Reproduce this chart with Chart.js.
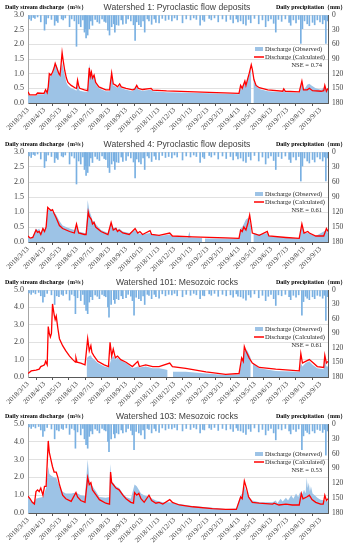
<!DOCTYPE html>
<html><head><meta charset="utf-8">
<script src="https://cdn.jsdelivr.net/npm/chart.js@4.4.1/dist/chart.umd.min.js"></script>
<style>
html,body{margin:0;padding:0;background:#fff;width:350px;height:550px;overflow:hidden;}
canvas{position:absolute;left:0;}
</style></head>
<body>
<canvas id="c1"></canvas><canvas id="c2"></canvas><canvas id="c3"></canvas><canvas id="c4"></canvas>
<script>
// ---- tick labels (x axis) ----
const monthLabels = ['2018/3/13','2018/4/13','2018/5/13','2018/6/13','2018/7/13','2018/8/13','2018/9/13','2018/10/13','2018/11/13','2018/12/13','2019/1/13','2019/2/13','2019/3/13','2019/4/13','2019/5/13','2019/6/13','2019/7/13','2019/8/13','2019/9/13'];
const titles = ['Watershed 1: Pyroclastic flow deposits','Watershed 4: Pyroclastic flow deposits','Watershed 101: Mesozoic rocks','Watershed 103: Mesozoic rocks'];
const nseValues = ['0.74','0.61','0.61','0.53'];
const dischargeMax = [3, 3, 5, 5];
const dischargeStep = [0.5, 0.5, 1, 1];

// ---- series: [day since 2018/3/13, value] ----
const calc1 = [[0,0.38],[3,0.28],[15,0.28],[18,0.34],[30,0.33],[33,0.45],[36,0.35],[38,0.55],[40,1.0],[43,0.95],[46,1.05],[49,1.2],[51,1.35],[53,1.25],[56,1.1],[58,1.0],[60,0.95],[62,1.3],[64,1.72],[66,1.45],[69,1.1],[72,0.85],[75,0.7],[81,0.6],[88,0.52],[91,0.5],[93,0.78],[95,0.6],[97,0.5],[106,0.45],[112,0.42],[115,1.2],[117,0.9],[119,1.05],[121,0.85],[124,0.95],[127,0.7],[133,0.55],[146,0.45],[153,0.45],[157,1.02],[160,0.65],[165,0.6],[168,0.55],[172,0.65],[175,0.55],[184,0.5],[196,0.45],[200,0.47],[204,0.6],[207,0.5],[215,0.46],[231,0.5],[234,0.44],[260,0.41],[300,0.39],[340,0.36],[396,0.33],[399,0.6],[402,0.5],[407,0.75],[409,0.6],[412,0.8],[415,1.0],[419,1.3],[421,1.15],[424,0.8],[428,0.6],[434,0.52],[450,0.45],[478,0.4],[480,0.48],[483,0.4],[509,0.38],[514,0.75],[517,0.45],[524,0.45],[528,0.5],[534,0.42],[550,0.4],[555,0.42],[557,0.6],[560,0.4],[563,0.5]];
const obs1 = [[0,0.25],[15,0.25],[18,0.3],[30,0.3],[33,0.42],[36,0.33],[38,0.5],[40,0.95],[43,0.9],[46,1.0],[49,1.15],[51,1.38],[53,1.3],[56,1.15],[58,1.0],[60,0.9],[62,1.15],[64,1.4],[66,1.2],[69,0.95],[72,0.7],[75,0.6],[81,0.5],[88,0.45],[91,0.42],[93,0.72],[95,0.5],[97,0.42],[106,0.38],[112,0.38],[115,1.35],[117,1.0],[119,1.1],[121,0.9],[124,0.9],[127,0.65],[133,0.5],[146,0.4],[153,0.4],[157,0.95],[160,0.6],[165,0.55],[168,0.5],[172,0.6],[175,0.5],[184,0.45],[196,0.4],[204,0.55],[207,0.45],[215,0.42],[231,0.45],[234,0.4],[260,0.37],[300,0.35],[340,0.33],[396,0.3],[399,0.5],[402,0.45],[407,0.7],[409,0.55],[412,0.75],[415,0.95],[419,1.2],[421,null],[423,0.9],[426,0.65],[430,0.55],[434,0.48],[450,0.4],[478,0.37],[480,0.45],[483,0.37],[509,0.35],[514,0.7],[517,0.45],[520,0.5],[524,0.62],[528,0.66],[532,0.6],[540,0.5],[550,0.45],[557,0.55],[560,0.4],[563,0.45]];
const calc2 = [[0,0.2],[4,0.13],[9,0.15],[15,0.4],[18,0.32],[21,0.35],[24,0.25],[28,0.45],[31,0.35],[34,0.5],[37,1.15],[40,1.1],[43,1.05],[46,1.08],[49,0.95],[53,0.8],[59,0.55],[65,0.45],[78,0.35],[87,0.3],[91,0.6],[95,0.3],[106,0.25],[109,0.25],[113,1.0],[115,0.85],[119,0.75],[121,0.6],[124,0.65],[127,0.5],[137,0.35],[150,0.25],[156,0.65],[160,0.4],[165,0.45],[168,0.35],[171,0.4],[178,0.3],[190,0.25],[201,0.45],[206,0.3],[210,0.35],[215,0.25],[229,0.38],[232,0.25],[246,0.22],[266,0.3],[271,0.2],[309,0.17],[371,0.14],[396,0.12],[399,0.4],[402,0.35],[405,0.5],[409,0.4],[413,0.65],[416,0.9],[419,0.55],[421,0.3],[434,0.22],[449,0.35],[452,0.2],[484,0.15],[509,0.12],[514,0.6],[518,0.3],[525,0.35],[528,0.3],[540,0.2],[555,0.2],[560,0.45],[563,0.35]];
const obs2 = [[0,0.15],[4,0.12],[9,0.2],[15,0.45],[18,0.4],[21,0.45],[24,0.3],[28,0.5],[31,0.4],[34,0.5],[37,1.1],[40,1.05],[43,1.1],[46,1.0],[49,1.0],[53,0.9],[59,0.7],[65,0.55],[78,0.45],[87,0.4],[91,0.55],[95,0.35],[106,0.3],[109,0.3],[112,1.4],[115,1.05],[119,0.85],[121,0.7],[124,0.7],[127,0.6],[137,0.4],[150,0.3],[156,0.65],[160,0.45],[165,0.5],[168,0.4],[171,0.45],[178,0.35],[190,0.3],[201,0.4],[206,0.3],[215,0.25],[229,0.3],[246,0.2],[266,0.25],[271,0.18],[300,0.15],[303,0.35],[305,0.15],[327,0.13],[329,null],[332,0.12],[371,0.12],[396,0.12],[399,0.45],[402,0.5],[405,0.6],[409,0.75],[413,0.8],[416,0.7],[419,0.5],[421,null],[423,0.3],[434,0.25],[449,0.3],[452,0.2],[484,0.15],[509,0.12],[514,0.55],[518,0.3],[525,0.3],[540,0.2],[560,0.4],[563,0.3]];
const calc3 = [[0,0.2],[6,0.35],[15,0.4],[21,0.45],[24,0.6],[28,0.65],[31,0.7],[33,0.9],[36,0.7],[38,2.9],[40,2.5],[42,2.3],[44,2.5],[46,4.2],[49,3.6],[51,3.3],[53,3.5],[56,2.8],[59,2.2],[65,1.8],[71,1.5],[78,1.2],[84,1.0],[89,0.85],[90,1.1],[92,0.85],[99,0.8],[107,0.7],[112,2.2],[115,1.5],[118,1.8],[120,1.4],[124,1.2],[131,0.9],[143,0.7],[151,0.6],[154,2.0],[157,1.2],[160,1.6],[164,1.1],[168,1.2],[174,1.0],[184,0.85],[196,0.6],[206,0.9],[209,0.6],[221,0.7],[234,0.6],[246,0.6],[266,0.8],[271,0.6],[296,0.5],[334,0.3],[371,0.15],[396,0.2],[401,1.1],[404,0.9],[406,1.75],[409,1.5],[412,1.3],[415,1.1],[421,0.8],[434,0.55],[465,0.45],[509,0.35],[512,1.35],[515,0.8],[521,0.9],[528,1.0],[534,0.85],[543,0.6],[555,0.55],[557,1.25],[560,0.8],[563,0.9]];
const obs3 = [[109,null],[110,1.0],[112,1.15],[115,1.2],[118,1.25],[120,1.1],[124,1.0],[131,0.8],[143,0.6],[151,0.55],[154,0.8],[157,1.1],[160,1.2],[164,1.0],[168,1.1],[174,0.95],[184,0.8],[196,0.5],[206,0.6],[209,0.55],[221,0.6],[234,0.5],[246,0.5],[256,0.45],[262,0.4],[264,null],[272,0.3],[296,0.3],[334,0.2],[371,0.12],[396,0.15],[401,0.9],[404,1.0],[406,1.5],[409,1.6],[412,1.5],[415,1.3],[418,1.1],[420,null],[422,0.8],[434,0.5],[465,0.35],[509,0.3],[512,0.8],[515,0.6],[521,0.8],[528,0.9],[534,0.7],[543,0.5],[555,0.45],[557,1.0],[560,0.6],[563,0.6]];
const calc4 = [[0,0.95],[4,0.8],[8,0.6],[12,0.5],[15,1.2],[18,1.3],[21,1.2],[24,1.4],[28,1.0],[31,1.5],[34,1.5],[38,4.05],[40,3.4],[43,3.0],[46,2.6],[49,2.3],[53,2.3],[56,2.0],[59,1.6],[65,1.0],[71,0.8],[81,0.65],[90,1.15],[93,0.9],[99,0.7],[107,0.6],[112,2.0],[115,1.6],[118,1.7],[121,1.3],[128,1.0],[134,0.75],[146,0.55],[153,0.5],[155,2.3],[157,1.7],[160,1.6],[165,1.4],[171,1.3],[178,1.0],[184,0.8],[193,0.6],[198,0.55],[200,1.15],[204,1.0],[208,1.1],[212,0.8],[218,0.6],[227,1.0],[232,0.7],[240,0.55],[246,0.6],[253,0.5],[266,0.75],[271,0.6],[284,0.45],[309,0.35],[346,0.25],[371,0.2],[391,0.2],[399,0.9],[402,0.8],[406,1.8],[410,1.4],[414,0.9],[421,0.6],[434,0.55],[459,0.5],[462,0.55],[471,0.45],[484,0.5],[496,0.45],[509,0.45],[513,1.1],[516,0.8],[523,0.9],[528,1.0],[533,0.75],[540,0.6],[549,0.5],[554,0.5],[557,1.0],[560,0.7],[563,0.8]];
const obs4 = [[0,1.0],[4,0.8],[8,0.6],[12,0.65],[15,0.8],[21,0.85],[28,0.9],[34,1.4],[38,2.6],[40,2.2],[43,2.1],[49,2.0],[53,2.0],[59,1.5],[65,1.2],[71,1.1],[81,1.1],[90,1.15],[99,1.0],[107,0.95],[112,3.0],[115,1.9],[118,1.6],[121,1.5],[128,1.2],[134,0.9],[146,0.85],[153,0.9],[154,2.75],[157,1.8],[165,1.5],[171,1.4],[178,1.1],[184,0.9],[193,0.8],[200,1.6],[204,1.5],[208,1.3],[212,1.1],[218,1.0],[227,0.9],[240,0.7],[253,0.6],[266,0.6],[284,0.5],[309,0.4],[346,0.3],[371,0.22],[391,0.25],[399,1.0],[402,1.1],[406,1.5],[410,1.2],[414,0.9],[421,0.7],[434,0.6],[459,0.6],[465,0.7],[468,0.55],[474,0.8],[478,0.65],[484,0.85],[488,0.7],[494,1.0],[498,0.8],[503,1.1],[507,0.9],[511,1.2],[514,1.0],[518,1.3],[521,1.1],[523,2.0],[525,1.4],[527,1.7],[529,1.2],[531,1.5],[534,1.1],[538,1.0],[543,0.85],[549,0.75],[557,0.7],[563,0.65]];
const precipA = [[2,8],[6,11],[10,5],[13,7],[18,4],[24,14],[31,31],[34,18],[38,6],[44,9],[50,21],[53,12],[56,15],[63,8],[66,10],[70,6],[78,24],[82,8],[87,12],[91,64],[95,18],[99,24],[103,10],[106,35],[108,28],[109,47],[112,41],[115,28],[118,12],[121,21],[126,9],[130,14],[134,17],[139,8],[143,13],[146,15],[150,31],[153,41],[157,24],[161,18],[163,35],[166,20],[170,21],[175,10],[178,19],[184,17],[188,8],[193,12],[198,20],[201,52],[204,14],[208,20],[212,24],[216,12],[219,35],[224,8],[227,12],[232,19],[237,8],[240,15],[246,16],[252,7],[258,11],[264,9],[270,12],[275,6],[280,10],[290,16],[297,8],[305,10],[311,6],[316,9],[323,21],[328,10],[331,13],[340,7],[344,10],[350,6],[357,14],[365,8],[372,13],[380,9],[385,16],[391,8],[394,14],[399,12],[404,18],[409,21],[414,9],[418,16],[425,7],[433,18],[440,10],[446,24],[451,12],[456,8],[461,17],[465,35],[470,9],[476,13],[483,8],[490,15],[493,21],[498,10],[503,16],[508,9],[512,58],[515,28],[519,12],[524,18],[528,22],[534,15],[538,20],[543,10],[548,14],[553,18],[556,10],[559,58],[562,12]];
const precipB = [[2,6],[6,9],[10,5],[14,8],[20,5],[24,12],[28,25],[31,14],[36,7],[44,10],[50,30],[54,12],[58,14],[63,9],[66,11],[72,8],[78,21],[82,9],[87,12],[89,49],[93,16],[99,22],[103,9],[106,30],[109,42],[112,49],[115,25],[118,14],[121,20],[126,10],[130,13],[134,18],[139,9],[143,12],[146,14],[150,35],[152,56],[156,30],[161,20],[163,28],[166,18],[170,20],[175,12],[178,18],[184,16],[188,9],[193,13],[196,22],[199,52],[203,15],[208,18],[212,22],[216,12],[219,30],[224,9],[227,11],[232,18],[237,9],[240,14],[246,17],[252,8],[258,12],[264,9],[270,10],[275,7],[280,12],[290,14],[297,9],[305,11],[311,7],[316,10],[323,18],[328,11],[331,12],[340,8],[344,11],[350,7],[357,13],[365,9],[372,12],[380,10],[385,15],[391,8],[394,13],[399,14],[404,17],[409,21],[414,10],[418,15],[425,8],[433,16],[440,11],[446,22],[451,13],[456,9],[461,18],[465,32],[470,10],[476,12],[483,9],[490,14],[493,20],[498,11],[503,15],[508,10],[514,52],[517,24],[521,13],[524,17],[528,20],[534,14],[538,18],[543,11],[548,13],[553,17],[556,11],[559,63],[562,14]];

const calcSeries = [calc1, calc2, calc3, calc4];
const obsSeries = [obs1, obs2, obs3, obs4];
const precipSeries = [precipA, precipA, precipB, precipB];

// ---- layout (positions only) ----
const panels = [
  {top:0,   h:137, plotTop:15, plotBottom:103, legendDy:34},
  {top:137, h:138, plotTop:15, plotBottom:105, legendDy:42},
  {top:275, h:135, plotTop:15, plotBottom:102, legendDy:39},
  {top:410, h:140, plotTop:14, plotBottom:103, legendDy:30}
];
const dayOf = s => { const [y,m,d] = s.split('/').map(Number); return Math.round((Date.UTC(y,m-1,d) - Date.UTC(2018,2,13))/86400000); };
const monthDays = monthLabels.map(dayOf);
const SERIF = "'Liberation Serif','Times New Roman',serif";
const SANS = "'Liberation Sans',Arial,sans-serif";

const deco = {
  id: 'deco',
  afterDraw(chart, args, o) {
    const ctx = chart.ctx, a = chart.chartArea;
    ctx.save();
    ctx.fillStyle = '#404040';
    ctx.textBaseline = 'middle';
    ctx.font = '8.6px ' + SANS;
    ctx.textAlign = 'center';
    ctx.fillText(o.title, 177, a.top - 7);
    ctx.fillStyle = '#000';
    ctx.font = 'bold 6px ' + SERIF;
    ctx.textAlign = 'left';
    ctx.fillText('Daily stream discharge（m³/s）', 5, a.top - 8);
    ctx.fillText('Daily precipitation（mm）', 276, a.top - 8);
    // legend
    const y1 = a.top + o.legendDy, y2 = y1 + 8, y3 = y2 + 8;
    ctx.fillStyle = '#9DC3E6';
    ctx.fillRect(255, y1 - 2, 8, 4);
    ctx.strokeStyle = '#FF0000'; ctx.lineWidth = 1.5;
    ctx.beginPath(); ctx.moveTo(254, y2); ctx.lineTo(264, y2); ctx.stroke();
    ctx.fillStyle = '#262626';
    ctx.font = '6.5px ' + SERIF;
    ctx.fillText('Discharge (Observed)', 265, y1);
    ctx.fillText('Discharge (Calculated)', 265, y2);
    ctx.textAlign = 'right';
    ctx.fillText('NSE = ' + o.nse, 322, y3);
    ctx.restore();
  }
};

panels.forEach((p, i) => {
  const cv = document.getElementById('c' + (i + 1));
  cv.width = 350; cv.height = p.h; cv.style.top = p.top + 'px';
  cv.style.width = '350px'; cv.style.height = p.h + 'px';
  new Chart(cv.getContext('2d'), {
    type: 'line',
    data: {
      datasets: [
        { type:'bar', data: precipSeries[i].map(([x,y]) => ({x, y})), yAxisID:'yR', xAxisID:'x',
          backgroundColor:'#79B0E2', barThickness:1, order:3 },
        { type:'line', data: obsSeries[i].map(([x,y]) => ({x, y})), yAxisID:'y', xAxisID:'x',
          fill:'origin', backgroundColor:'#9DC3E6', borderWidth:0, borderColor:'rgba(0,0,0,0)',
          pointRadius:0, spanGaps:false, tension:0, order:2 },
        { type:'line', data: calcSeries[i].map(([x,y]) => ({x, y})), yAxisID:'y', xAxisID:'x',
          fill:false, borderColor:'#FF0000', borderWidth:1.3, pointRadius:0, tension:0, order:1 }
      ]
    },
    options: {
      responsive:false, animation:false, devicePixelRatio:1,
      layout: { padding: { top: p.plotTop, left:0, right:0, bottom:0 } },
      plugins: { legend:{display:false}, tooltip:{enabled:false}, title:{display:false},
        deco: { title: titles[i], nse: nseValues[i], legendDy: p.legendDy } },
      scales: {
        x: { type:'linear', min:0, max:563, offset:false,
          afterBuildTicks: s => { s.ticks = monthDays.map(v => ({value:v})); },
          afterFit: s => { s.height = p.h - p.plotBottom; },
          ticks: { autoSkip:false, minRotation:45, maxRotation:45, padding:0,
            font:{family:SERIF, size:7}, color:'#404040',
            callback: (v, idx) => monthLabels[idx] },
          grid: { drawOnChartArea:false, drawTicks:true, tickLength:3, color:'#595959' },
          border: { display:true, color:'#595959' } },
        y: { position:'left', min:0, max:dischargeMax[i],
          afterFit: s => { s.width = 28; },
          ticks: { stepSize: dischargeStep[i], padding:4, font:{family:SERIF, size:8}, color:'#404040',
            callback: v => Number(v).toFixed(1) },
          grid: { color:'#D9D9D9', lineWidth:0.8, drawTicks:false },
          border: { display:true, color:'#A6A6A6' } },
        yR: { position:'right', reverse:true, min:0, max:180,
          afterFit: s => { s.width = 22; },
          ticks: { stepSize:30, padding:4, font:{family:SERIF, size:7.5}, color:'#404040' },
          grid: { drawOnChartArea:false, drawTicks:false },
          border: { display:true, color:'#595959' } }
      }
    },
    plugins: [deco]
  });
});
</script>
</body></html>
